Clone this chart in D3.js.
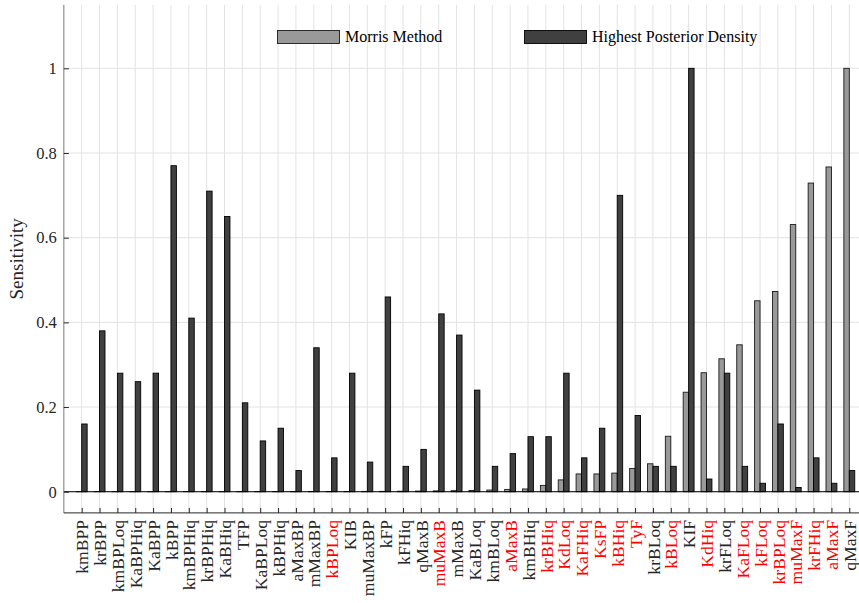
<!DOCTYPE html>
<html>
<head>
<meta charset="utf-8">
<script src="https://cdn.jsdelivr.net/npm/d3@7"></script>
<style>
  html, body { margin: 0; padding: 0; background: #fff; }
  svg { display: block; }
  text { font-family: "Liberation Serif", "Times New Roman", serif; }
</style>
</head>
<body>
<svg id="chart" width="859" height="603"></svg>
<script>
const categories = ["kmBPP","krBPP","kmBPLoq","KaBPHiq","KaBPP","kBPP","kmBPHiq","krBPHiq","KaBHiq","TFP",
  "KaBPLoq","kBPHiq","aMaxBP","mMaxBP","kBPLoq","KIB","muMaxBP","kFP","kFHiq","qMaxB",
  "muMaxB","mMaxB","KaBLoq","kmBLoq","aMaxB","kmBHiq","krBHiq","KdLoq","KaFHiq","KsFP",
  "kBHiq","TyF","krBLoq","kBLoq","KIF","KdHiq","krFLoq","KaFLoq","kFLoq","krBPLoq",
  "muMaxF","krFHiq","aMaxF","qMaxF"];

const morris = [0.0001,0.0001,0.0001,0.0002,0.0002,0.0002,0.0003,0.0003,0.0003,0.0004,
  0.0004,0.0005,0.0005,0.0006,0.0006,0.0007,0.0008,0.0009,0.0012,0.0015,
  0.002,0.0025,0.003,0.004,0.0055,0.0065,0.015,0.028,0.042,0.042,
  0.044,0.055,0.066,0.131,0.235,0.281,0.314,0.347,0.451,0.473,
  0.631,0.729,0.767,1.0];

const hpd = [0.16,0.38,0.28,0.26,0.28,0.77,0.41,0.71,0.65,0.21,
  0.12,0.15,0.05,0.34,0.08,0.28,0.07,0.46,0.06,0.10,
  0.42,0.37,0.24,0.06,0.09,0.13,0.13,0.28,0.08,0.15,
  0.70,0.18,0.06,0.06,1.00,0.03,0.28,0.06,0.02,0.16,
  0.01,0.08,0.02,0.05];

const highlighted = ["kBPLoq","muMaxB","aMaxB","krBHiq","KdLoq","KaFHiq","KsFP","kBHiq","TyF","kBLoq",
  "KdHiq","KaFLoq","kFLoq","krBPLoq","muMaxF","krFHiq","aMaxF"];

const yTicks = [0, 0.2, 0.4, 0.6, 0.8, 1];
const yTickLabels = ["0", "0.2", "0.4", "0.6", "0.8", "1"];
const seriesNames = ["Morris Method", "Highest Posterior Density"];

const svg = d3.select("#chart");
const x = d3.scaleLinear().domain([0, 45]).range([63.85, 867.15]);
const y = d3.scaleLinear().domain([-0.05, 1.15]).range([512.9, 4.8]);
const barW = x(0.305) - x(0);
const xTop = y(1.15), xBot = y(-0.05);

// grid
const grid = svg.append("g");
grid.selectAll("line.vg").data(categories).enter().append("line")
  .attr("x1", (d, i) => x(i + 1)).attr("x2", (d, i) => x(i + 1))
  .attr("y1", xTop).attr("y2", xBot)
  .attr("stroke", "#e3e3e3").attr("stroke-width", 1);
grid.selectAll("line.hg").data(yTicks).enter().append("line")
  .attr("x1", x(0)).attr("x2", 859)
  .attr("y1", d => y(d)).attr("y2", d => y(d))
  .attr("stroke", "#e3e3e3").attr("stroke-width", 1);

// bars
const bars = svg.append("g");
bars.selectAll("rect.m").data(morris).enter().append("rect")
  .attr("x", (d, i) => x(i + 1) - barW).attr("width", barW)
  .attr("y", d => y(d)).attr("height", d => y(0) - y(d))
  .attr("fill", "#999999").attr("stroke", "#1a1a1a").attr("stroke-width", 0.9);
bars.selectAll("rect.h").data(hpd).enter().append("rect")
  .attr("x", (d, i) => x(i + 1)).attr("width", barW)
  .attr("y", d => y(d)).attr("height", d => y(0) - y(d))
  .attr("fill", "#404040").attr("stroke", "#000").attr("stroke-width", 0.9);

// baseline
svg.append("line").attr("x1", x(0)).attr("x2", 859)
  .attr("y1", y(0)).attr("y2", y(0)).attr("stroke", "#000").attr("stroke-width", 1);

// y axis
const yAxis = d3.axisLeft(y).tickValues(yTicks)
  .tickFormat((d, i) => yTickLabels[i]).tickSize(-5).tickPadding(7);
const gy = svg.append("g").attr("transform", `translate(${x(0)},0)`).call(yAxis);
gy.select(".domain").attr("stroke", "#777").attr("d", `M0,${xTop}V${xBot}`);
gy.selectAll(".tick line").attr("stroke", "#262626");
gy.selectAll(".tick text").attr("font-size", "16.5px").attr("fill", "#262626")
  .style("font-family", '"Liberation Serif", serif');

// x axis
const xAxis = d3.axisBottom(x).tickValues(d3.range(1, categories.length + 1))
  .tickFormat(d => categories[d - 1]).tickSize(-5).tickPadding(7);
const gx = svg.append("g").attr("transform", `translate(0,${xBot})`).call(xAxis);
gx.select(".domain").attr("stroke", "#262626").attr("d", `M${x(0)},0H859`);
gx.selectAll(".tick line").attr("stroke", "#262626");
gx.selectAll(".tick text")
  .attr("font-size", "17.6px")
  .style("font-family", '"Liberation Serif", serif')
  .attr("fill", d => highlighted.includes(categories[d - 1]) ? "#ff0000" : "#262626")
  .attr("text-anchor", "end")
  .attr("transform", "rotate(-90)")
  .attr("x", -7).attr("y", 0).attr("dy", "0.35em");

// y label
svg.append("text").attr("transform", `translate(23,${(xTop + xBot) / 2}) rotate(-90)`)
  .attr("text-anchor", "middle").attr("font-size", "19px").attr("fill", "#262626")
  .text("Sensitivity");

// legend
const legend = svg.append("g");
const legendItems = [
  { name: seriesNames[0], fill: "#999999", stroke: "#1a1a1a", x: 277.5 },
  { name: seriesNames[1], fill: "#404040", stroke: "#000", x: 524.5 }
];
legendItems.forEach(it => {
  legend.append("rect").attr("x", it.x).attr("y", 30.5).attr("width", 62).attr("height", 13)
    .attr("fill", it.fill).attr("stroke", it.stroke).attr("stroke-width", 0.9);
  legend.append("text").attr("x", it.x + 67.5).attr("y", 42)
    .attr("font-size", "16px").attr("fill", "#000").text(it.name);
});
</script>
</body>
</html>
